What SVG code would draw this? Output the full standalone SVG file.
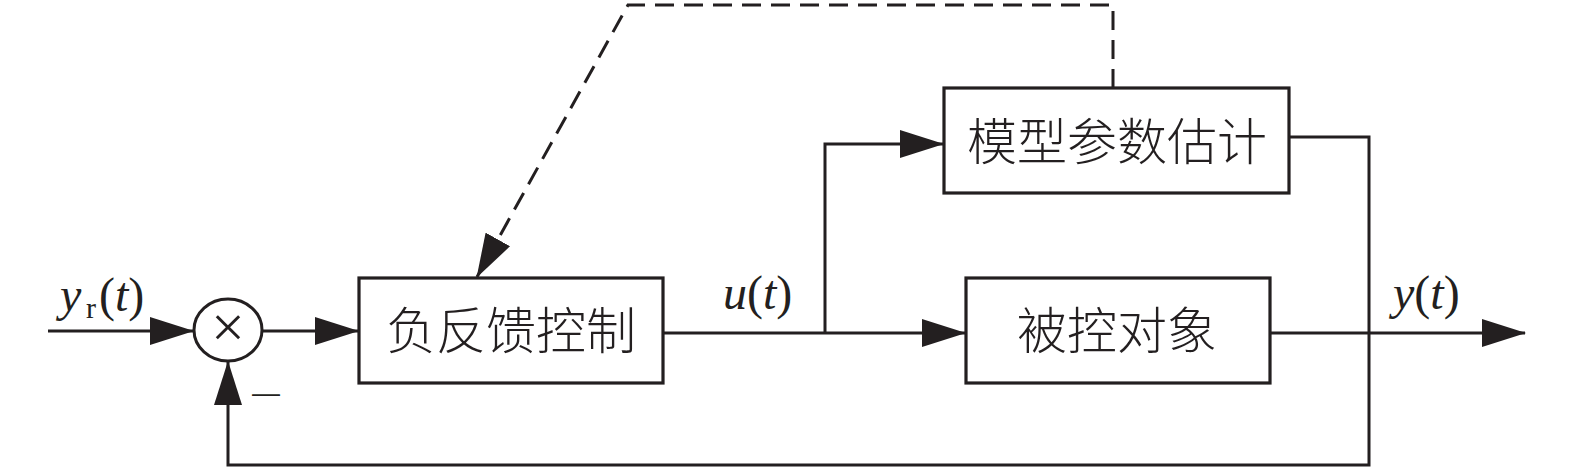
<svg xmlns="http://www.w3.org/2000/svg" width="1575" height="470" viewBox="0 0 1575 470">
<style>
.box{fill:#fff;stroke:#231f20;stroke-width:3.2}
.ln{fill:none;stroke:#231f20;stroke-width:3}
.dash{stroke-dasharray:19 10}
.cjk{font-family:"Noto Sans CJK SC","Noto Sans CJK TC",sans-serif;font-size:50px;font-weight:300;fill:#231f20;text-anchor:middle}
.math{font-family:"Liberation Serif",serif;font-size:48px;fill:#231f20}
.it{font-style:italic}
</style>
<defs>
<marker id="arr" markerUnits="userSpaceOnUse" markerWidth="44" markerHeight="28" viewBox="0 0 44 28" refX="43" refY="14" orient="auto">
<path d="M0,0 L44,14 L0,28 Z" fill="#231f20"/>
</marker>
</defs>
<rect width="1575" height="470" fill="#fff"/>
<g id="connectors">
<path class="ln" d="M48,331 H193" marker-end="url(#arr)"/>
<path class="ln" d="M262,331 H358" marker-end="url(#arr)"/>
<path class="ln" d="M663,333 H965" marker-end="url(#arr)"/>
<path class="ln" d="M825,333 V144 H943" marker-end="url(#arr)"/>
<path class="ln" d="M1270,333 H1525" marker-end="url(#arr)"/>
<path class="ln" d="M1290,137 H1369 V465 H228 V362" marker-end="url(#arr)"/>
<path class="ln dash" d="M1113,88 V5 H628 L477,277" marker-end="url(#arr)"/>
</g>
<g id="sum">
<ellipse cx="228" cy="330" rx="34" ry="31" fill="#fff" stroke="#231f20" stroke-width="3"/>
<text class="math" x="228" y="347" text-anchor="middle" style="font-size:60px">×</text>
<text x="252" y="402" font-family="Liberation Sans, sans-serif" font-size="28" fill="#231f20">—</text>
</g>
<g id="controller">
<rect class="box" x="359" y="278" width="304" height="105"/>
<text class="cjk" x="511" y="349">负反馈控制</text>
</g>
<g id="estimator">
<rect class="box" x="944" y="88" width="345" height="105"/>
<text class="cjk" x="1117" y="160">模型参数估计</text>
</g>
<g id="plant">
<rect class="box" x="966" y="278" width="304" height="105"/>
<text class="cjk" x="1117" y="349">被控对象</text>
</g>
<g id="labels">
<text class="math" y="311"><tspan x="60" class="it">y</tspan><tspan x="86" dy="7" font-size="30">r</tspan><tspan x="99" dy="-7">(</tspan><tspan class="it">t</tspan>)</text>
<text class="math" x="723" y="309"><tspan class="it">u</tspan>(<tspan class="it">t</tspan>)</text>
<text class="math" x="1393" y="309"><tspan class="it">y</tspan>(<tspan class="it">t</tspan>)</text>
</g>
</svg>
